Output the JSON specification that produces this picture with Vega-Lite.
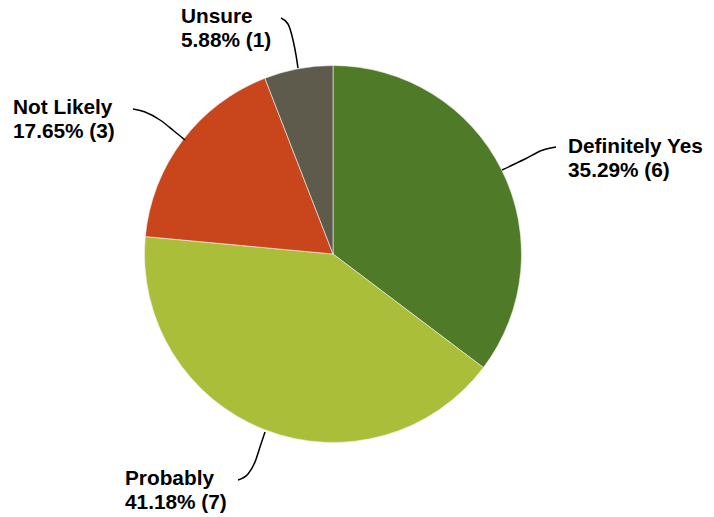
{
  "$schema": "https://vega.github.io/schema/vega-lite/v6.json",
  "width": 714,
  "height": 517,
  "padding": 0,
  "autosize": {"type": "fit", "contains": "padding"},
  "background": "white",
  "config": {"view": {"stroke": null}},
  "datasets": {
    "slices": [
      {"answer": "Definitely Yes", "count": 6, "rank": 1},
      {"answer": "Probably", "count": 7, "rank": 2},
      {"answer": "Not Likely", "count": 3, "rank": 3},
      {"answer": "Unsure", "count": 1, "rank": 4}
    ],
    "leaders": [
      {"id": "Unsure", "seq": 1, "lx": -52, "ly": 236},
      {"id": "Unsure", "seq": 2, "lx": -45, "ly": 230},
      {"id": "Unsure", "seq": 3, "lx": -40, "ly": 214},
      {"id": "Unsure", "seq": 4, "lx": -37, "ly": 199},
      {"id": "Unsure", "seq": 5, "lx": -35, "ly": 186},
      {"id": "Not Likely", "seq": 1, "lx": -200, "ly": 145},
      {"id": "Not Likely", "seq": 2, "lx": -188, "ly": 142},
      {"id": "Not Likely", "seq": 3, "lx": -173, "ly": 134},
      {"id": "Not Likely", "seq": 4, "lx": -159, "ly": 123},
      {"id": "Not Likely", "seq": 5, "lx": -148, "ly": 114},
      {"id": "Definitely Yes", "seq": 1, "lx": 223, "ly": 107},
      {"id": "Definitely Yes", "seq": 2, "lx": 210, "ly": 104},
      {"id": "Definitely Yes", "seq": 3, "lx": 192, "ly": 95},
      {"id": "Definitely Yes", "seq": 4, "lx": 169, "ly": 84},
      {"id": "Probably", "seq": 1, "lx": -95, "ly": -226},
      {"id": "Probably", "seq": 2, "lx": -85, "ly": -220},
      {"id": "Probably", "seq": 3, "lx": -78, "ly": -208},
      {"id": "Probably", "seq": 4, "lx": -73, "ly": -193},
      {"id": "Probably", "seq": 5, "lx": -68, "ly": -178}
    ],
    "labels": [
      {"label": "Unsure\n5.88% (1)", "tx": -152, "ty": 231},
      {"label": "Not Likely\n17.65% (3)", "tx": -320, "ty": 140},
      {"label": "Definitely Yes\n35.29% (6)", "tx": 235, "ty": 101},
      {"label": "Probably\n41.18% (7)", "tx": -208, "ty": -231}
    ]
  },
  "layer": [
    {
      "data": {"name": "slices"},
      "mark": {"type": "arc", "outerRadius": 188.5, "stroke": "#f2f2f2", "strokeWidth": 0.6},
      "encoding": {
        "x": {"datum": 0, "type": "quantitative", "scale": {"domain": [-333, 381], "nice": false, "zero": false}, "axis": null},
        "y": {"datum": 0, "type": "quantitative", "scale": {"domain": [-263, 254], "nice": false, "zero": false}, "axis": null},
        "theta": {"field": "count", "type": "quantitative", "stack": true},
        "order": {"field": "rank", "type": "quantitative", "sort": "ascending"},
        "color": {
          "field": "answer",
          "type": "nominal",
          "scale": {
            "domain": ["Definitely Yes", "Probably", "Not Likely", "Unsure"],
            "range": ["#4F7B28", "#AABE3A", "#C9461D", "#5F5B4C"]
          },
          "legend": null
        }
      }
    },
    {
      "data": {"name": "leaders"},
      "mark": {"type": "line", "color": "black", "strokeWidth": 1.5, "interpolate": "monotone"},
      "encoding": {
        "x": {"field": "lx", "type": "quantitative"},
        "y": {"field": "ly", "type": "quantitative"},
        "detail": {"field": "id"},
        "order": {"field": "seq", "type": "quantitative"}
      }
    },
    {
      "data": {"name": "labels"},
      "mark": {
        "type": "text",
        "align": "left",
        "baseline": "alphabetic",
        "lineBreak": "\n",
        "lineHeight": 24,
        "font": "Liberation Sans",
        "fontWeight": "bold",
        "fontSize": 20.8,
        "color": "black"
      },
      "encoding": {
        "x": {"field": "tx", "type": "quantitative"},
        "y": {"field": "ty", "type": "quantitative"},
        "text": {"field": "label"}
      }
    }
  ]
}
